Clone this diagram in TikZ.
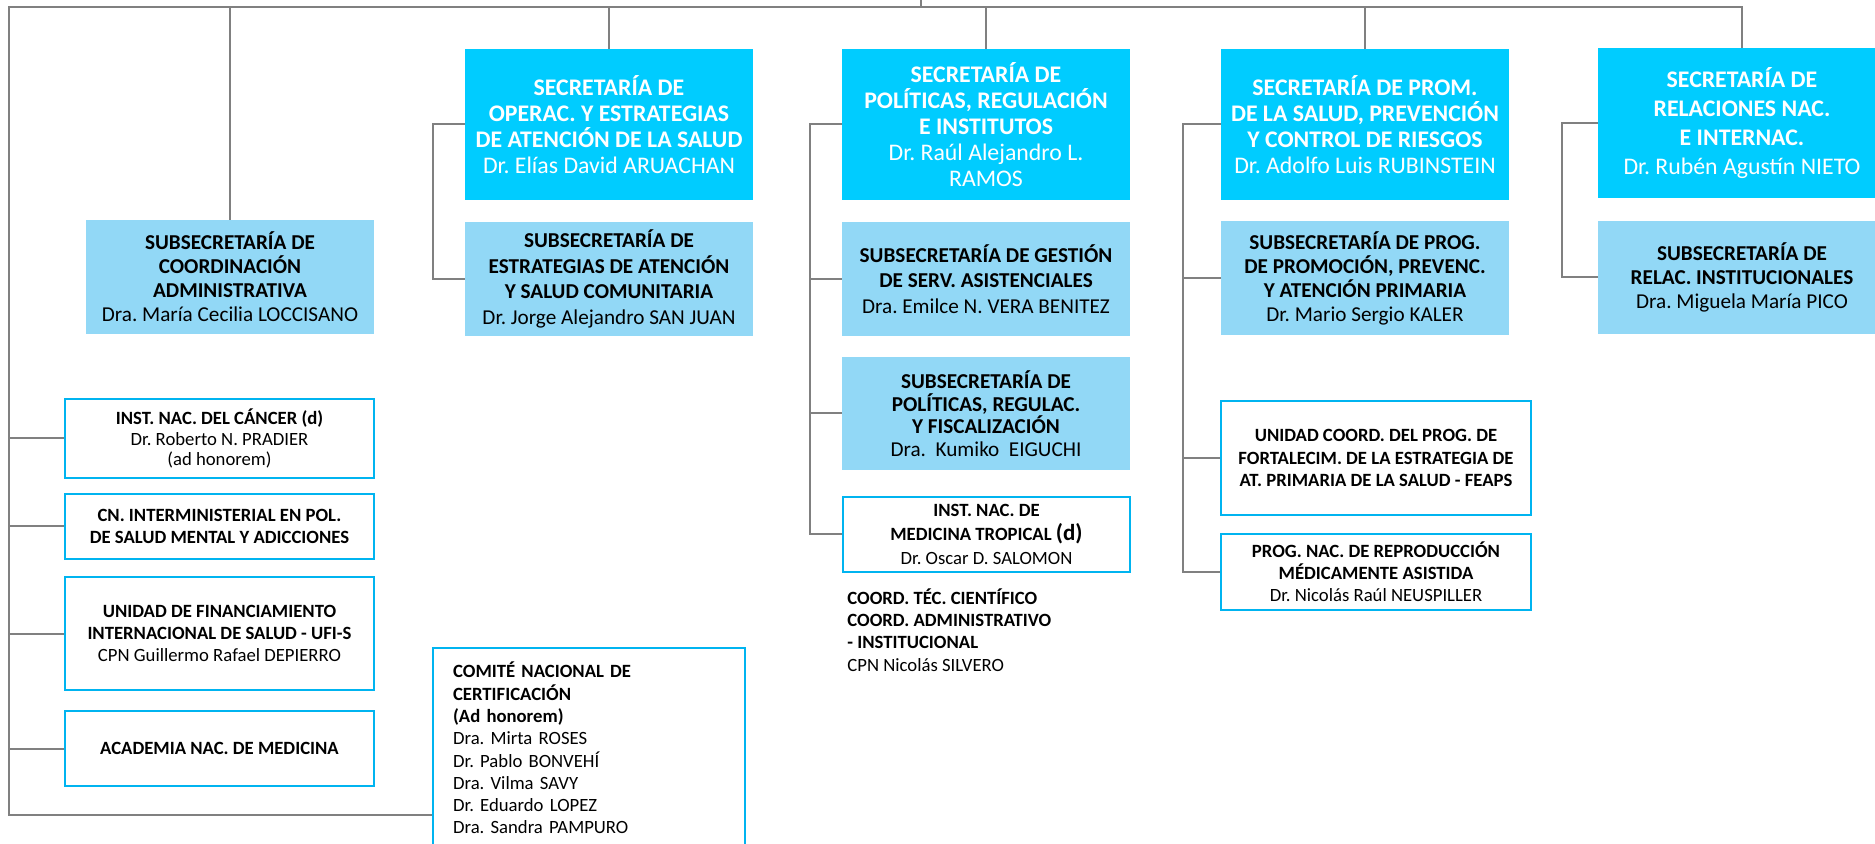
\documentclass[tikz,border=0pt]{standalone}
\usepackage{fontspec}
\setmainfont{Carlito}
\frenchspacing
\definecolor{seccyan}{RGB}{0,204,255}
\definecolor{sublight}{RGB}{146,216,246}
\definecolor{unitcyan}{RGB}{0,180,240}
\definecolor{linkgray}{RGB}{128,128,128}
\tikzset{
	secbox/.style={fill=seccyan, text=white, align=center, inner sep=0pt, minimum width=144pt, minimum height=75.5pt, font=\fontsize{11.9}{12.9}\selectfont},
	subbox/.style={fill=sublight, align=center, inner sep=0pt, minimum width=144pt, minimum height=57pt, font=\fontsize{10.6}{12}\selectfont},
	unitbox/.style={draw=unitcyan, line width=1.1pt, align=center, inner sep=0pt, font=\fontsize{9.35}{11.1}\selectfont},
	link/.style={draw=linkgray, line width=1pt},
}
\begin{document}
\begin{tikzpicture}[x=0.5pt, y=-0.5pt]
				\useasboundingbox (0,0) rectangle (1875,844);

				% Secretarias
				\node[secbox] (opsec) at (609,124.5) {\textbf{SECRETARÍA DE}\\\textbf{OPERAC. Y ESTRATEGIAS}\\\textbf{DE ATENCIÓN DE LA SALUD}\\Dr. Elías David ARUACHAN};
				\node[secbox] (polsec) at (986,124.5) {\textbf{SECRETARÍA DE}\\\textbf{POLÍTICAS, REGULACIÓN}\\\textbf{E INSTITUTOS}\\Dr. Raúl Alejandro L.\\RAMOS};
				\node[secbox] (promsec) at (1365,124.5) {\textbf{SECRETARÍA DE PROM.}\\\textbf{DE LA SALUD, PREVENCIÓN}\\\textbf{Y CONTROL DE RIESGOS}\\Dr. Adolfo Luis RUBINSTEIN};
				\node[secbox, minimum height=75pt, font=\fontsize{11.9}{14.5}\selectfont] (relsec) at (1742,123) {\textbf{SECRETARÍA DE}\\\textbf{RELACIONES NAC.}\\\textbf{E INTERNAC.}\\Dr. Rubén Agustín NIETO};

				% Subsecretarias
				\node[subbox] (coordsub) at (230,277) {\textbf{SUBSECRETARÍA DE}\\\textbf{COORDINACIÓN}\\\textbf{ADMINISTRATIVA}\\Dra. María Cecilia LOCCISANO};
				\node[subbox, font=\fontsize{10.6}{12.75}\selectfont] (estrsub) at (609,279) {\textbf{SUBSECRETARÍA DE}\\\textbf{ESTRATEGIAS DE ATENCIÓN}\\\textbf{Y SALUD COMUNITARIA}\\Dr. Jorge Alejandro SAN JUAN};
				\node[subbox, font=\fontsize{10.6}{12.75}\selectfont] (gestsub) at (986,279) {\textbf{SUBSECRETARÍA DE GESTIÓN}\\\textbf{DE SERV. ASISTENCIALES}\\Dra. Emilce N. VERA BENITEZ};
				\node[subbox, minimum height=56.5pt, font=\fontsize{10.6}{11.3}\selectfont] (polsub) at (986,413.5) {\textbf{SUBSECRETARÍA DE}\\\textbf{POLÍTICAS, REGULAC.}\\\textbf{Y FISCALIZACIÓN}\\Dra.\ \ Kumiko\ \ EIGUCHI};
				\node[subbox] (progsub) at (1365,278) {\textbf{SUBSECRETARÍA DE PROG.}\\\textbf{DE PROMOCIÓN, PREVENC.}\\\textbf{Y ATENCIÓN PRIMARIA}\\Dr. Mario Sergio KALER};
				\node[subbox, minimum height=56.5pt] (relsub) at (1742,277.5) {\textbf{SUBSECRETARÍA DE}\\\textbf{RELAC. INSTITUCIONALES}\\Dra. Miguela María PICO};

				% Organismos
				\node[unitbox, minimum width=154.5pt, minimum height=39.5pt, font=\fontsize{9.35}{10.4}\selectfont] (cancer) at (219.5,438.5) {\textbf{INST. NAC. DEL CÁNCER (d)}\\Dr. Roberto N. PRADIER\\(ad honorem)};
				\node[unitbox, minimum width=154.5pt, minimum height=32.5pt] (cn) at (219.5,526.5) {\textbf{CN. INTERMINISTERIAL EN POL.}\\\textbf{DE SALUD MENTAL Y ADICCIONES}};
				\node[unitbox, minimum width=154.5pt, minimum height=56.5pt] (ufi) at (219.5,633.5) {\textbf{UNIDAD DE FINANCIAMIENTO}\\\textbf{INTERNACIONAL DE SALUD - UFI-S}\\CPN Guillermo Rafael DEPIERRO};
				\node[unitbox, minimum width=154.5pt, minimum height=37.5pt] (acad) at (219.5,748.5) {\textbf{ACADEMIA NAC. DE MEDICINA}};
				\node[unitbox, anchor=north west, align=left, text width=136pt, inner xsep=10pt, minimum height=100pt, font=\fontsize{9.35}{11.15}\selectfont] (comite) at (432,647) {\textbf{COMITÉ NACIONAL DE}\\\textbf{CERTIFICACIÓN}\\\textbf{(Ad honorem)}\\Dra. Mirta ROSES\\Dr. Pablo BONVEHÍ\\Dra. Vilma SAVY\\Dr. Eduardo LOPEZ\\Dra. Sandra PAMPURO};
				\node[unitbox, minimum width=143.5pt, minimum height=37.5pt, font=\fontsize{9.35}{12}\selectfont] (medtrop) at (986.5,534.5) {\textbf{INST. NAC. DE}\\\textbf{MEDICINA TROPICAL {\fontsize{11.5}{12}\selectfont(d)}}\\Dr. Oscar D. SALOMON};
				\node[anchor=west, align=left, inner sep=0pt, font=\fontsize{9.35}{11.15}\selectfont] (coordtxt) at (847,630) {\textbf{COORD. TÉC. CIENTÍFICO}\\\textbf{COORD. ADMINISTRATIVO}\\\textbf{- INSTITUCIONAL}\\CPN Nicolás SILVERO};
				\node[unitbox, minimum width=155pt, minimum height=57pt] (feaps) at (1376,458) {\textbf{UNIDAD COORD. DEL PROG. DE}\\\textbf{FORTALECIM. DE LA ESTRATEGIA DE}\\\textbf{AT. PRIMARIA DE LA SALUD - FEAPS}};
				\node[unitbox, minimum width=155pt, minimum height=38pt, font=\fontsize{9.35}{11}\selectfont] (reprod) at (1376,572) {\textbf{PROG. NAC. DE REPRODUCCIÓN}\\\textbf{MÉDICAMENTE ASISTIDA}\\Dr. Nicolás Raúl NEUSPILLER};

				% Bus
				\coordinate (apex) at (921,0);
				\coordinate (busL) at (9,7.5);
				\coordinate (busR) at (1742,7.5);
				\coordinate (spineEnd) at (9,815);
				\draw[link] (apex) -- (apex |- busL);
				\draw[link] (relsec.north) -- (busR) -- (busL) -- (spineEnd) -- (spineEnd -| comite.west);
				\foreach \u in {coordsub,opsec,polsec,promsec}
					\draw[link] (\u.north) -- (\u.north |- busL);
				\foreach \u in {cancer,cn,ufi,acad}
					\draw[link] (\u.west) -- (\u.west -| busL);

				% Side links
				\draw[link] (opsec.west) -- ++(-32,0) |- (estrsub.west);
				\draw[link] (polsec.west) -- ++(-32,0) |- (medtrop.west);
				\draw[link] (gestsub.west) -- ++(-32,0);
				\draw[link] (polsub.west) -- ++(-32,0);
				\draw[link] (promsec.west) -- ++(-38,0) |- (reprod.west);
				\draw[link] (progsub.west) -- ++(-38,0);
				\draw[link] (feaps.west) -- ++(-38,0);
				\draw[link] (relsec.west) -- ++(-36,0) |- (relsub.west);
\end{tikzpicture}
\end{document}
